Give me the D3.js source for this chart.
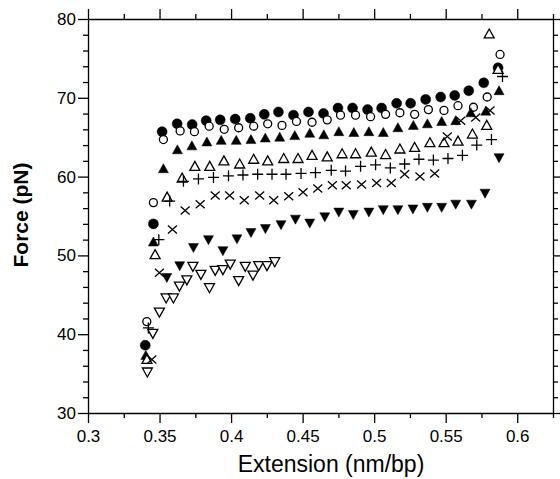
<!DOCTYPE html>
<html>
<head>
<meta charset="utf-8">
<script src="https://cdn.jsdelivr.net/npm/d3@7"></script>
<style>
	body { margin: 0; background: #fff; }
	svg { display: block; font-family: 'Liberation Sans', Arial, sans-serif; }
</style>
</head>
<body>
<svg width="560" height="479"></svg>
<script>
'use strict';

// Tick values and labels
var xMajorTicks = [0.3, 0.35, 0.4, 0.45, 0.5, 0.55, 0.6];
var xTickLabels = ['0.3', '0.35', '0.4', '0.45', '0.5', '0.55', '0.6'];
var xMinorTicks = [0.325, 0.375, 0.425, 0.475, 0.525, 0.575, 0.625];
var yMajorTicks = [30, 40, 50, 60, 70, 80];
var yMinorTicks = [32, 34, 36, 38, 42, 44, 46, 48, 52, 54, 56, 58, 62, 64, 66, 68, 72, 74, 76, 78];

// Filled circles
var filledCircleX = [0.340, 0.3457, 0.3518, 0.3623, 0.3728, 0.3826, 0.3924, 0.4029, 0.4134, 0.4232, 0.4331, 0.4436, 0.4541, 0.4646, 0.4747, 0.4849, 0.4954, 0.5052, 0.5157, 0.5255, 0.5360, 0.5465, 0.5563, 0.5661, 0.5766, 0.5866];
var filledCircleY = [38.6, 54.0, 65.7, 66.7, 66.6, 67.1, 67.2, 67.3, 67.4, 67.9, 68.2, 67.8, 68.2, 68.0, 68.7, 68.7, 68.5, 68.7, 69.3, 69.3, 69.8, 70.1, 70.3, 70.9, 71.9, 73.8];

// Open circles
var openCircleX = [0.3411, 0.3457, 0.3527, 0.3644, 0.3744, 0.3847, 0.3952, 0.4053, 0.4158, 0.4256, 0.4356, 0.4457, 0.4566, 0.4672, 0.4765, 0.4870, 0.4975, 0.5080, 0.5180, 0.5283, 0.5379, 0.5488, 0.5586, 0.5694, 0.5790, 0.5880];
var openCircleY = [41.6, 56.7, 64.7, 65.8, 65.7, 66.4, 66.0, 66.2, 66.4, 66.7, 66.5, 67.0, 66.9, 67.2, 67.8, 67.8, 67.6, 67.9, 68.1, 67.9, 68.5, 68.4, 69.0, 68.8, 70.1, 75.5];

// Filled triangles (up)
var filledUpX = [0.3404, 0.3457, 0.3527, 0.3625, 0.3726, 0.3831, 0.3931, 0.4036, 0.4139, 0.4239, 0.4340, 0.4445, 0.4550, 0.4648, 0.4753, 0.4858, 0.4963, 0.5064, 0.5166, 0.5274, 0.5372, 0.5472, 0.5570, 0.5675, 0.5780, 0.5873];
var filledUpY = [37.3, 51.7, 61.0, 63.4, 63.9, 64.4, 64.6, 64.6, 64.7, 64.9, 65.0, 65.2, 65.5, 65.3, 65.7, 65.6, 65.7, 65.6, 66.2, 66.5, 66.7, 67.0, 67.1, 68.1, 68.3, 70.9];

// Open triangles (up)
var openUpX = [0.3412, 0.3469, 0.3553, 0.3658, 0.3747, 0.3851, 0.3950, 0.4060, 0.4158, 0.4256, 0.4368, 0.4468, 0.4566, 0.4672, 0.4776, 0.4870, 0.4980, 0.5080, 0.5180, 0.5283, 0.5390, 0.5488, 0.5586, 0.5687, 0.5787, 0.5804, 0.5866];
var openUpY = [36.8, 50.1, 57.4, 59.8, 61.3, 61.3, 62.0, 61.6, 62.2, 62.0, 62.3, 62.3, 62.7, 62.5, 62.9, 62.9, 63.1, 62.8, 63.5, 63.7, 64.3, 64.3, 64.5, 65.4, 66.5, 78.1, 73.6];

// Plus signs
var plusX = [0.3422, 0.3495, 0.3571, 0.3667, 0.3772, 0.3877, 0.3982, 0.4083, 0.4186, 0.4286, 0.4384, 0.4489, 0.4590, 0.4700, 0.4800, 0.4905, 0.5010, 0.5113, 0.5213, 0.5313, 0.5414, 0.5516, 0.5617, 0.5717, 0.5820, 0.5897];
var plusY = [40.8, 52.0, 56.9, 59.4, 59.7, 59.9, 60.1, 60.2, 60.3, 60.3, 60.3, 60.4, 60.5, 60.8, 60.7, 61.3, 61.5, 61.1, 61.6, 62.2, 62.1, 62.3, 62.7, 64.0, 64.7, 72.7];

// Crosses
var crossX = [0.3446, 0.3499, 0.3590, 0.3679, 0.3784, 0.3889, 0.3990, 0.4092, 0.4200, 0.4298, 0.4403, 0.4503, 0.4606, 0.4708, 0.4805, 0.4912, 0.5017, 0.5120, 0.5213, 0.5320, 0.5423, 0.5511, 0.5605, 0.5710, 0.5810];
var crossY = [36.8, 47.8, 53.3, 55.7, 56.5, 57.6, 57.6, 57.0, 57.6, 57.0, 57.5, 58.0, 58.5, 58.9, 58.9, 59.0, 59.2, 59.2, 60.3, 60.0, 60.4, 65.1, 67.1, 67.5, 68.4];

// Filled triangles (down)
var filledDownX = [0.3551, 0.3641, 0.3737, 0.3842, 0.3943, 0.4041, 0.4139, 0.4240, 0.4349, 0.4450, 0.4550, 0.4655, 0.4753, 0.4854, 0.4963, 0.5064, 0.5166, 0.5271, 0.5372, 0.5472, 0.5570, 0.5680, 0.5775, 0.5873];
var filledDownY = [47.2, 48.7, 51.0, 52.0, 50.6, 52.1, 52.9, 53.4, 53.9, 54.6, 54.1, 54.9, 55.5, 55.2, 55.5, 55.8, 55.8, 55.9, 56.1, 56.1, 56.5, 56.5, 57.9, 62.4];

// Open triangles (down)
var openDownX = [0.3415, 0.3453, 0.3499, 0.3546, 0.3597, 0.3639, 0.3691, 0.3733, 0.3789, 0.3849, 0.3889, 0.3943, 0.3994, 0.4053, 0.4099, 0.4153, 0.4193, 0.4251, 0.4305];
var openDownY = [35.2, 40.1, 42.8, 44.6, 44.6, 46.1, 46.9, 48.6, 47.6, 45.9, 48.1, 48.2, 48.9, 46.8, 48.6, 47.5, 48.7, 48.7, 49.2];

/**
 * Marker shapes, drawn around 0,0
 */
var shapes = {
	circle : 'M5,0A5,5 0 1,1 -5,0A5,5 0 1,1 5,0Z',
	openCircle : 'M4,0A4,4 0 1,1 -4,0A4,4 0 1,1 4,0Z',
	up : 'M0,-5L5,4L-5,4Z',
	down : 'M0,5L5,-4L-5,-4Z',
	plus : 'M-5.5,0H5.5M0,-5.5V5.5',
	cross : 'M-4.5,-4L4.5,4M-4.5,4L4.5,-4'
};

var series = [
	{ xs : filledCircleX, ys : filledCircleY, shape : 'circle', fill : '#000' },
	{ xs : openCircleX, ys : openCircleY, shape : 'openCircle', fill : '#fff' },
	{ xs : filledUpX, ys : filledUpY, shape : 'up', fill : '#000' },
	{ xs : openUpX, ys : openUpY, shape : 'up', fill : '#fff' },
	{ xs : plusX, ys : plusY, shape : 'plus', fill : 'none' },
	{ xs : crossX, ys : crossY, shape : 'cross', fill : 'none' },
	{ xs : filledDownX, ys : filledDownY, shape : 'down', fill : '#000' },
	{ xs : openDownX, ys : openDownY, shape : 'down', fill : '#fff' }
];

var margin = { top : 19, right : 7, bottom : 66, left : 88 };
var svg = d3.select('svg');
var width = +svg.attr('width') - margin.left - margin.right;
var height = +svg.attr('height') - margin.top - margin.bottom;

var x = d3.scaleLinear().domain([0.3, 0.625]).range([0, width]);
var y = d3.scaleLinear().domain([30, 80]).range([height, 0]);

var g = svg.append('g')
	.attr('transform', 'translate(' + margin.left + ',' + margin.top + ')');

/**
 * Draw one axis side: major ticks (labelled or not) and minor ticks
 */
function drawAxis(axisFn, scale, major, minor, labels, translate) {
	var grp = g.append('g').attr('transform', translate || null);
	var fmt = labels ? function (d, i) { return labels[i]; } : function () { return ''; };
	grp.append('g')
		.call(axisFn(scale).tickValues(minor).tickSize(5).tickSizeOuter(0).tickFormat(''))
		.select('.domain').remove();
	grp.append('g')
		.attr('class', 'major')
		.call(axisFn(scale).tickValues(major).tickSize(10).tickSizeOuter(0).tickPadding(labels === xTickLabels ? 7 : 2).tickFormat(fmt));
	grp.selectAll('line, path')
		.attr('stroke', '#000')
		.attr('stroke-width', 1.3);
	grp.selectAll('text')
		.attr('fill', '#000')
		.style('font-size', '17px')
		.style('font-family', "'Liberation Sans', Arial, sans-serif");
	return grp;
}

drawAxis(d3.axisBottom, x, xMajorTicks, xMinorTicks, xTickLabels, 'translate(0,' + height + ')');
drawAxis(d3.axisTop, x, xMajorTicks, xMinorTicks, null, null);
drawAxis(d3.axisLeft, y, yMajorTicks, yMinorTicks, yMajorTicks.map(String), null);
drawAxis(d3.axisRight, y, yMajorTicks, yMinorTicks, null, 'translate(' + width + ',0)');

// the markers
series.forEach(function (s) {
	var pts = s.xs.map(function (v, i) { return [v, s.ys[i]]; });
	g.append('g')
		.selectAll('path')
		.data(pts)
		.enter()
			.append('path')
			.attr('d', shapes[s.shape])
			.attr('transform', function (d) { return 'translate(' + x(d[0]) + ',' + y(d[1]) + ')'; })
			.attr('fill', s.fill)
			.attr('stroke', '#000')
			.attr('stroke-width', s.fill === '#000' ? 0.5 : 1.3);
});

// axis titles
svg.append('text')
	.attr('x', 331)
	.attr('y', 472)
	.attr('text-anchor', 'middle')
	.style('font-size', '23px')
	.text('Extension (nm/bp)');

svg.append('text')
	.attr('transform', 'translate(28,215) rotate(-90)')
	.attr('text-anchor', 'middle')
	.style('font-size', '21px')
	.style('font-weight', 'bold')
	.text('Force (pN)');
</script>
</body>
</html>
